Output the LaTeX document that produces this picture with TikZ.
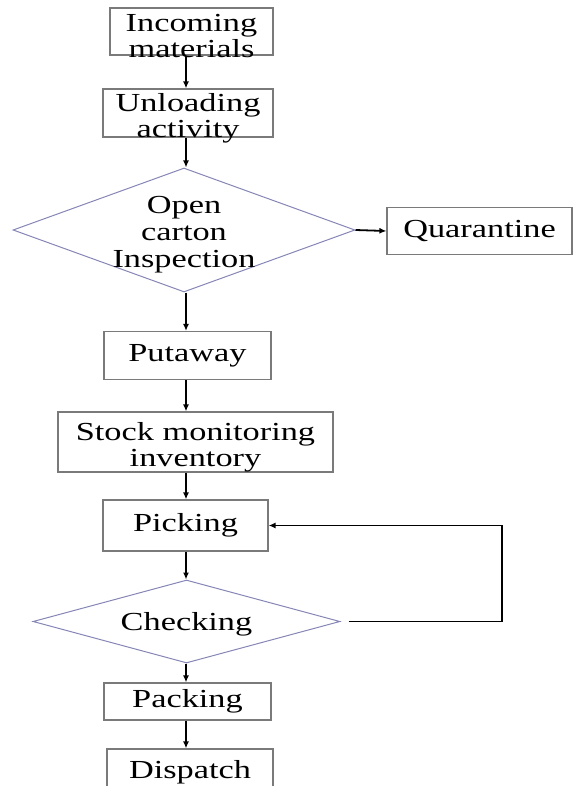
\documentclass[tikz,border=0pt]{standalone}
\usepackage{fontspec}
\setmainfont{Liberation Serif}[FakeStretch=1.32]
\usetikzlibrary{arrows.meta}
\usetikzlibrary{shapes.geometric}

\definecolor{boxgray}{HTML}{7A7A7A}
\definecolor{diamondblue}{HTML}{8686B6}

\begin{document}
\begin{tikzpicture}[x=1pt,y=-1pt,>/.tip={Latex[length=7pt,width=6pt]},
	font=\fontsize{26}{26}\selectfont,
	stepbox/.style={draw=boxgray,line width=1.2pt,inner sep=0pt,align=center},
	decision/.style={draw=diamondblue,shape=diamond,line width=1pt,inner sep=0pt},
	lowtext/.style={label={[align=center,yshift=-5pt]center:#1}},
	flow/.style={line width=1.8pt}]
	\clip (0,0) rectangle (585,786);
	\coordinate (spine) at (186,0);
	\draw (191.5,31.5) node (incoming) [stepbox,minimum width=163pt,minimum height=47pt,lowtext={Incoming\\materials}] {};
	\draw (188,113) node (unloading) [stepbox,minimum width=170pt,minimum height=48pt,lowtext={Unloading\\activity}] {};
	\draw (184,230) node (inspect) [decision,minimum width=342pt,minimum height=124pt,
		label={[align=center,yshift=-5pt,baseline=0pt]center:Open\\[1pt]carton\\[1pt]Inspection}] {};
	\draw (479.5,231) node (quarantine) [stepbox,minimum width=185pt,minimum height=47pt] {Quarantine};
	\draw (187.5,355.5) node (putaway) [stepbox,minimum width=167pt,minimum height=48pt] {Putaway};
	\draw (195.5,442) node (stock) [stepbox,minimum width=275pt,minimum height=60pt,lowtext={Stock monitoring\\inventory}] {};
	\draw (185.5,525.5) node (picking) [stepbox,minimum width=165pt,minimum height=51pt] {Picking};
	\draw (186.5,621.5) node (checking) [decision,minimum width=307pt,minimum height=83pt,
		label={[yshift=-3pt]center:Checking}] {};
	\draw (187.5,701.5) node (packing) [stepbox,minimum width=167pt,minimum height=37pt] {Packing};
	\draw (190,772) node (dispatch) [stepbox,minimum width=166pt,minimum height=46pt] {Dispatch};
	\coordinate (loop) at (502,525.5);
	\path[->,flow] (spine |- incoming.south) edge (spine |- unloading.north);
	\path[->,flow] (spine |- unloading.south) edge (spine |- inspect.north);
	\path[->,flow] (spine |- inspect.south) edge (spine |- putaway.north);
	\path[->,flow] (inspect.east) edge (quarantine.west);
	\path[->,flow] (spine |- putaway.south) edge (spine |- stock.north);
	\path[->,flow] (spine |- stock.south) edge (spine |- picking.north);
	\path[->,flow] (spine |- picking.south) edge (spine |- checking.north);
	\path[->,flow] (spine |- checking.south) edge (spine |- packing.north);
	\path[->,flow] (spine |- packing.south) edge (spine |- dispatch.north);
	\draw[->,flow] ([xshift=8pt]checking.east) -- (loop |- checking.east) -- (loop) -- (picking.east);
\end{tikzpicture}
\end{document}
